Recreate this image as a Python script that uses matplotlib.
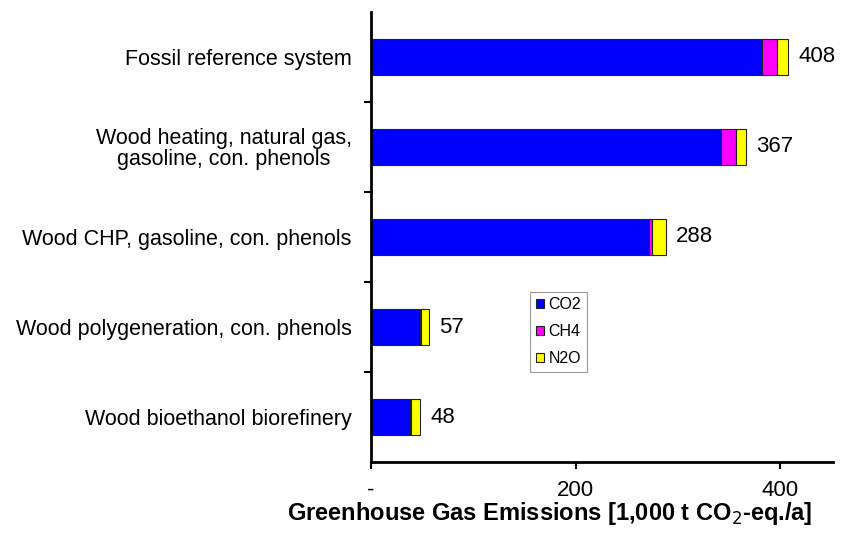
import numpy as np
import matplotlib
matplotlib.use('Agg')
from matplotlib import pyplot as plt
from matplotlib.ticker import FixedLocator

plt.rcParams['font.family'] = ['Liberation Sans', 'DejaVu Sans']

# data
systems = ['Fossil reference system',
           'Wood heating, natural gas,\ngasoline, con. phenols',
           'Wood CHP, gasoline, con. phenols',
           'Wood polygeneration, con. phenols',
           'Wood bioethanol biorefinery']
co2 = [382, 342, 272, 48, 38]
ch4 = [15, 15, 3, 1, 1]
n2o = [11, 10, 13, 8, 9]
totals = [408, 367, 288, 57, 48]

gases = ['CO2', 'CH4', 'N2O']
colors = ['#0000FF', '#FF00FF', '#FFFF00']

fig = plt.figure(figsize=(8.46, 5.33), dpi=100)
ax = fig.add_axes([0.4385, 0.1332, 0.5465, 0.8443])

y = np.arange(len(systems))
left = np.zeros(len(systems))
for vals, name, col in zip([co2, ch4, n2o], gases, colors):
    ax.barh(y, vals, left=left, height=0.4, color=col, edgecolor='#222222',
            linewidth=0.8, label=name)
    left = left + np.array(vals)

for yi, t in zip(y, totals):
    ax.text(t + 10, yi, str(t), va='center', ha='left', fontsize=16)

ax.set_ylim(4.5, -0.5)
ax.set_xlim(0, 452)

ax.set_yticks(y)
ax.set_yticklabels(systems, fontsize=15.5)
for lbl in ax.get_yticklabels():
    lbl.set_multialignment('center')
    lbl.set_linespacing(1.0)
ax.tick_params(axis='y', which='major', length=0, pad=14)
ax.yaxis.set_minor_locator(FixedLocator([0.5, 1.5, 2.5, 3.5]))
ax.tick_params(axis='y', which='minor', length=5, width=1.5, direction='out')

ax.set_xticks([0, 200, 400])
ax.set_xticklabels(['-', '200', '400'], fontsize=16)
ax.tick_params(axis='x', length=5, width=1.5, direction='out', pad=8)

ax.set_xlabel('Greenhouse Gas Emissions [1,000 t CO$_2$-eq./a]',
              fontsize=17, fontweight='bold')
ax.xaxis.set_label_coords(0.387, -0.085)

for s in ['top', 'right']:
    ax.spines[s].set_visible(False)
for s in ['left', 'bottom']:
    ax.spines[s].set_linewidth(2)

leg = ax.legend(loc='lower left', bbox_to_anchor=(0.344, 0.2), fontsize=11.5,
                handlelength=0.5, handleheight=0.5, handletextpad=0.3,
                labelspacing=0.75, fancybox=False, framealpha=1,
                edgecolor='#999999', borderpad=0.35, borderaxespad=0)
leg.get_frame().set_linewidth(0.8)

plt.savefig('out.png', dpi=100)
